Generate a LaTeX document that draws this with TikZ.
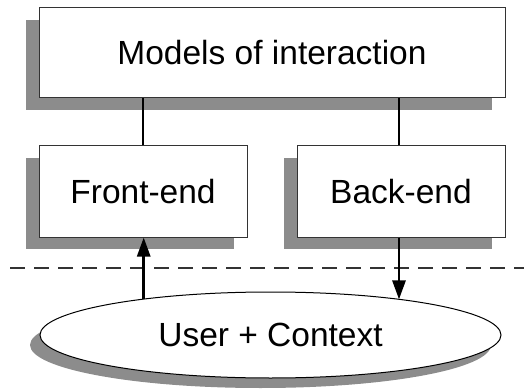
\documentclass[tikz,border=0pt]{standalone}
\usepackage{fontspec}
\setmainfont{Liberation Sans}
\usetikzlibrary{shapes.geometric,shadows,arrows.meta}
\definecolor{sombra}{HTML}{8C8C8C}
\definecolor{borde}{HTML}{333333}
\begin{document}
\begin{tikzpicture}[
        x=1pt, y=-1pt,
        every node/.style={font=\fontsize{33.5}{40}\selectfont},
        caja/.style={draw=borde, line width=1pt, fill=white, inner sep=0pt,
            general shadow={shadow xshift=-13pt, shadow yshift=-12pt, fill=sombra}},
        elipse/.style={ellipse, draw=black, line width=1pt, fill=white, inner sep=0pt,
            minimum width=461pt, minimum height=86pt,
            general shadow={shadow xshift=-10pt, shadow yshift=-10pt, fill=sombra}},
        enlace/.style={line width=2.8pt},
        flecha/.style={line width=2.8pt, -{Triangle[length=19pt, width=13pt]}}
    ]
    \useasboundingbox (0,0) rectangle (524,390);

    % Modelos
    \node[caja, minimum width=466pt, minimum height=90pt] (modelos) at (272,53) {Models of interaction};

    % Front-end y back-end
    \node[caja, minimum width=208pt, minimum height=91pt] (front) at (143,191.5) {Front-end};
    \node[caja, minimum width=208pt, minimum height=91pt] (back) at (401,191.5) {Back-end};

    % Usuario
    \draw[borde, line width=1.1pt, dash pattern=on 15pt off 9pt] (10,268) -- (524,268);
    \node[elipse] (usuario) at (270.5,335) {User + Context};

    % Aristas
    \draw[enlace] (front.north) -- (front.north |- modelos.south);
    \draw[enlace] ([xshift=-2pt]back.north) -- ([xshift=-2pt]back.north |- modelos.south);
    \draw[flecha] (usuario.164) -- (usuario.164 |- front.south);
    \draw[flecha] ([xshift=-2pt]back.south) -- ([xshift=-2pt]back.south |- usuario.15.5);
\end{tikzpicture}
\end{document}
